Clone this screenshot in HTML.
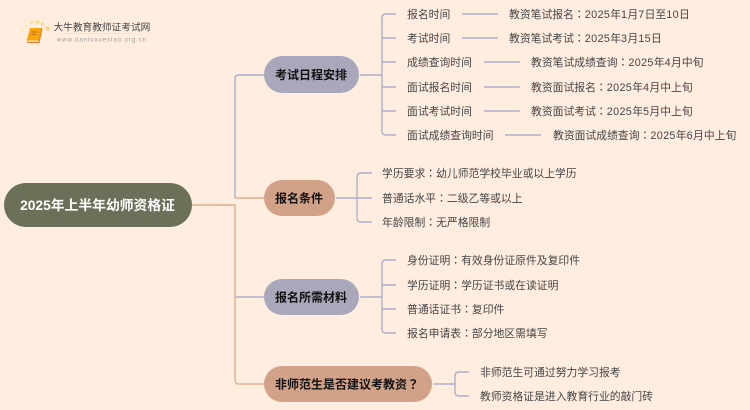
<!DOCTYPE html>
<html lang="zh-CN">
<head>
<meta charset="utf-8">
<title>2025年上半年幼师资格证</title>
<style>
html,body{margin:0;padding:0;width:750px;height:410px;overflow:hidden;background:#ffeee0}
svg{display:block}
text{font-family:"Liberation Sans","Noto Sans CJK SC",sans-serif}
.c{font-family:"Noto Sans CJK TC",sans-serif;font-feature-settings:"locl" 0}
.d{letter-spacing:.35px}
.t{font-size:10.820px;fill:#444}
.b{font-size:12px;font-weight:700;fill:#111;text-anchor:middle}
.l{fill:none;stroke:#aeaec8;stroke-width:1.400}
.p{fill:none;stroke:#e0ad90;stroke-width:1.400}
.s{fill:none;stroke:#aeaec8;stroke-width:1.400}
</style>
</head>
<body>
<svg width="750" height="410" viewBox="0 0 750 410" xmlns="http://www.w3.org/2000/svg">
<rect width="750" height="410" fill="#ffeee0"/>

<!-- logo -->
<g>
<circle cx="47.500" cy="28.500" r="2.200" fill="#ffd67f"/>
<circle cx="42.500" cy="24" r="1.700" fill="#ffd98a"/>
<circle cx="37.500" cy="22" r="1.700" fill="#ffd98a"/>
<circle cx="31.500" cy="22.500" r="1.600" fill="#ffdc95"/>
<circle cx="26" cy="26" r="1.300" fill="#ffe0a0"/>
<circle cx="22.500" cy="31" r="1.100" fill="#ffe3aa"/>
<circle cx="22" cy="37" r="1" fill="#ffe6b5"/>
<circle cx="23.500" cy="42.500" r="0.800" fill="#ffe9c0"/>
<path d="M30 28h12l-3 13.500h-12.500z" fill="#f8a50e"/>
<path d="M28 40.500h10.500l-.5 1.500h-11z" fill="#ffe3b8"/>
<path d="M27 42.500h12l3-14" fill="none" stroke="#e8762a" stroke-width="1.100"/>
<path d="M31.500 32h6.500M31 34.500h5" stroke="#a8650c" stroke-width=".7"/>
<text x="53.500" y="30.500" style="font-size:9.700px;fill:#444">大牛教育教师证考试网</text>
<rect x="62" y="33" width="70" height="0.700" fill="#e9e0d8"/>
<text x="57" y="41.500" style="font-size:6px;fill:#9a9a9a;letter-spacing:.95px">www.daniuxuexiao.org.cn</text>
</g>

<!-- trunk connectors -->
<path class="p" d="M192 205H235V380Q235 384 239 384H264"/>
<path class="p" d="M235 198H264"/>
<path class="s" d="M235 198V79Q235 75 239 75H264"/>
<path class="s" d="M235 297H264"/>

<!-- group 1 connectors -->
<path class="l" d="M360 75H382"/>
<path class="l" d="M396 14H386Q382 14 382 18V131Q382 135 386 135H396"/>
<path class="l" d="M382 38H396M382 62H396M382 87H396M382 111H396"/>
<path class="l" d="M462 14H498M462 38H498M484 62H520M484 87H520M484 111H520M505 135H541"/>

<!-- group 2 connectors -->
<path class="l" d="M336 198H372"/>
<path class="l" d="M372 173H361Q357 173 357 177V218Q357 222 361 222H372"/>

<!-- group 3 connectors -->
<path class="l" d="M360 297H382"/>
<path class="l" d="M396 260H386Q382 260 382 264V329Q382 333 386 333H396"/>
<path class="l" d="M382 285H396M382 309H396"/>

<!-- group 4 connectors -->
<path class="l" d="M433 384H455"/>
<path class="l" d="M469 372H459Q455 372 455 376V392Q455 396 459 396H469"/>

<!-- root -->
<rect x="4" y="183" width="188" height="44" rx="22" fill="#6b7159"/>
<text x="97.500" y="210" text-anchor="middle" style="font-size:13.800px;font-weight:700;fill:#fff">2025年上半年幼师资格证</text>

<!-- branch nodes -->
<rect x="264" y="56" width="95" height="37" rx="18.500" fill="#a9a8bb"/>
<text class="b" x="311" y="79">考试日程安排</text>
<rect x="264" y="180" width="71" height="36" rx="18" fill="#d2a288"/>
<text class="b" x="299" y="202.500">报名条件</text>
<rect x="264" y="279" width="95" height="36" rx="18" fill="#a9a8bb"/>
<text class="b" x="311" y="301.500">报名所需材料</text>
<rect x="264" y="366" width="168" height="36" rx="18" fill="#d2a288"/>
<text class="b" x="275" y="388.500" style="text-anchor:start">非师范生是否建议考教资<tspan class="c" lang="zh-TW">？</tspan></text>

<!-- group 1 text -->
<text class="t" x="407" y="18">报名时间</text>
<text class="t" x="509" y="18">教资笔试报名<tspan class="c" lang="zh-TW">：</tspan><tspan class="d">2025</tspan>年<tspan class="d">1</tspan>月<tspan class="d">7</tspan>日至<tspan class="d">10</tspan>日</text>
<text class="t" x="407" y="42">考试时间</text>
<text class="t" x="509" y="42">教资笔试考试<tspan class="c" lang="zh-TW">：</tspan><tspan class="d">2025</tspan>年<tspan class="d">3</tspan>月<tspan class="d">15</tspan>日</text>
<text class="t" x="407" y="66">成绩查询时间</text>
<text class="t" x="531" y="66">教资笔试成绩查询<tspan class="c" lang="zh-TW">：</tspan><tspan class="d">2025</tspan>年<tspan class="d">4</tspan>月中旬</text>
<text class="t" x="407" y="91">面试报名时间</text>
<text class="t" x="531" y="91">教资面试报名<tspan class="c" lang="zh-TW">：</tspan><tspan class="d">2025</tspan>年<tspan class="d">4</tspan>月中上旬</text>
<text class="t" x="407" y="115">面试考试时间</text>
<text class="t" x="531" y="115">教资面试考试<tspan class="c" lang="zh-TW">：</tspan><tspan class="d">2025</tspan>年<tspan class="d">5</tspan>月中上旬</text>
<text class="t" x="407" y="139">面试成绩查询时间</text>
<text class="t" x="553" y="139">教资面试成绩查询<tspan class="c" lang="zh-TW">：</tspan><tspan class="d">2025</tspan>年<tspan class="d">6</tspan>月中上旬</text>

<!-- group 2 text -->
<text class="t" x="382" y="177">学历要求<tspan class="c" lang="zh-TW">：</tspan>幼儿师范学校毕业或以上学历</text>
<text class="t" x="382" y="202">普通话水平<tspan class="c" lang="zh-TW">：</tspan>二级乙等或以上</text>
<text class="t" x="382" y="226">年龄限制<tspan class="c" lang="zh-TW">：</tspan>无严格限制</text>

<!-- group 3 text -->
<text class="t" x="407" y="264">身份证明<tspan class="c" lang="zh-TW">：</tspan>有效身份证原件及复印件</text>
<text class="t" x="407" y="289">学历证明<tspan class="c" lang="zh-TW">：</tspan>学历证书或在读证明</text>
<text class="t" x="407" y="313">普通话证书<tspan class="c" lang="zh-TW">：</tspan>复印件</text>
<text class="t" x="407" y="337">报名申请表<tspan class="c" lang="zh-TW">：</tspan>部分地区需填写</text>

<!-- group 4 text -->
<text class="t" x="480" y="376">非师范生可通过努力学习报考</text>
<text class="t" x="480" y="400">教师资格证是进入教育行业的敲门砖</text>
</svg>
</body>
</html>
